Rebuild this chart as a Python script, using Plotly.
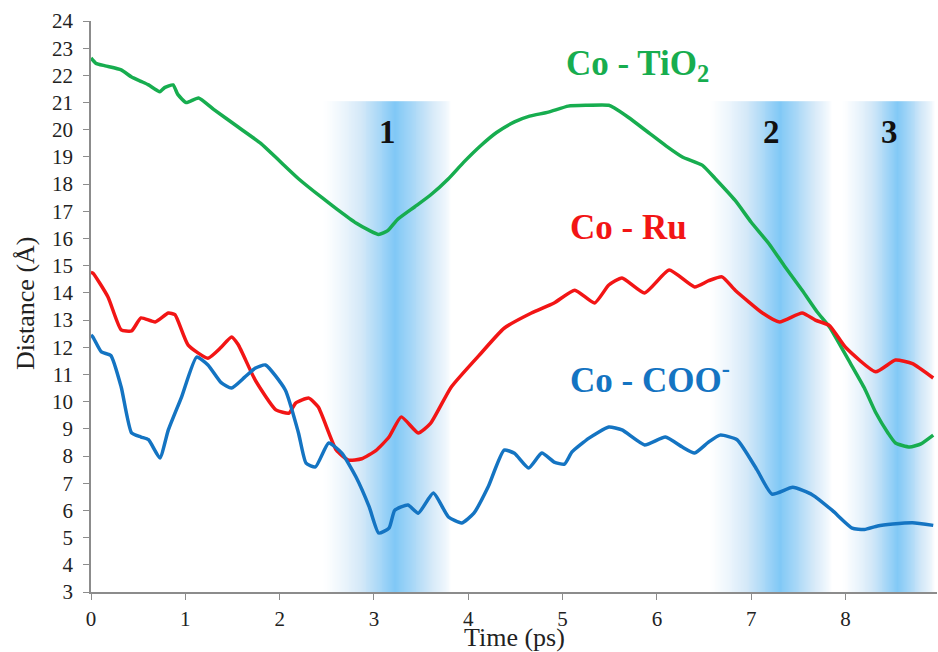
import numpy as np
import plotly.graph_objects as go

# ---- data ----
green_x = [0, 0.05, 0.15, 0.32, 0.43, 0.53, 0.61, 0.73, 0.78, 0.87, 0.92, 1.01, 1.14, 1.3, 1.56, 1.8, 2.0, 2.2,
           2.45, 2.6, 2.81, 2.95, 3.05, 3.15, 3.25, 3.43, 3.6, 3.79, 3.95, 4.14, 4.3, 4.49, 4.65, 4.85, 5.06,
           5.25, 5.49, 5.55, 5.7, 5.91, 6.1, 6.27, 6.48, 6.62, 6.83, 7.0, 7.19, 7.35, 7.54, 7.7, 7.83, 8.07,
           8.2, 8.32, 8.45, 8.53, 8.68, 8.8, 8.93]
green_y = [22.64, 22.45, 22.35, 22.2, 21.94, 21.78, 21.65, 21.4, 21.55, 21.65, 21.3, 21.0, 21.17, 20.75, 20.1,
           19.5, 18.85, 18.2, 17.5, 17.1, 16.57, 16.3, 16.15, 16.3, 16.7, 17.16, 17.6, 18.2, 18.8, 19.44, 19.9,
           20.29, 20.5, 20.65, 20.87, 20.9, 20.9, 20.8, 20.45, 19.9, 19.4, 19.0, 18.7, 18.2, 17.4, 16.6, 15.8,
           15.0, 14.1, 13.3, 12.75, 11.3, 10.5, 9.6, 8.85, 8.48, 8.33, 8.45, 8.77]

red_x = [0, 0.02, 0.18, 0.32, 0.43, 0.53, 0.68, 0.82, 0.89, 1.03, 1.24, 1.38, 1.49, 1.56, 1.74, 1.96, 2.1, 2.17,
         2.31, 2.41, 2.6, 2.73, 2.87, 3.02, 3.16, 3.29, 3.47, 3.6, 3.82, 4.14, 4.38, 4.67, 4.91, 5.13, 5.34,
         5.49, 5.63, 5.87, 6.13, 6.4, 6.55, 6.69, 6.83, 7.12, 7.3, 7.54, 7.68, 7.83, 8.0, 8.32, 8.53, 8.71, 8.93]
red_y = [14.75, 14.73, 13.85, 12.64, 12.6, 13.08, 12.93, 13.26, 13.2, 12.08, 11.6, 12.0, 12.38, 12.1, 10.8, 9.7,
         9.58, 9.95, 10.13, 9.8, 8.22, 7.85, 7.9, 8.2, 8.7, 9.44, 8.85, 9.2, 10.54, 11.8, 12.7, 13.26, 13.63,
         14.1, 13.63, 14.29, 14.55, 14.0, 14.84, 14.22, 14.45, 14.59, 14.1, 13.26, 12.93, 13.26, 13.0, 12.8,
         12.0, 11.1, 11.53, 11.4, 10.87]

blue_x = [0, 0.02, 0.11, 0.21, 0.32, 0.43, 0.53, 0.61, 0.73, 0.82, 0.96, 1.12, 1.24, 1.38, 1.49, 1.63, 1.74,
          1.85, 2.06, 2.2, 2.28, 2.38, 2.52, 2.66, 2.81, 2.95, 3.05, 3.16, 3.22, 3.36, 3.47, 3.63, 3.79, 3.93,
          4.06, 4.21, 4.38, 4.49, 4.64, 4.78, 4.91, 5.02, 5.1, 5.28, 5.49, 5.63, 5.87, 6.09, 6.27, 6.4, 6.55,
          6.67, 6.85, 7.06, 7.22, 7.44, 7.65, 7.86, 8.07, 8.2, 8.34, 8.5, 8.71, 8.93]
blue_y = [12.45, 12.38, 11.83, 11.7, 10.54, 8.85, 8.7, 8.6, 7.93, 8.96, 10.17, 11.64, 11.35, 10.7, 10.5, 10.9,
          11.23, 11.35, 10.43, 8.85, 7.74, 7.6, 8.48, 8.11, 7.23, 6.13, 5.17, 5.35, 6.0, 6.2, 5.9, 6.64, 5.76,
          5.54, 5.9, 6.86, 8.22, 8.1, 7.56, 8.11, 7.78, 7.7, 8.15, 8.66, 9.07, 8.96, 8.41, 8.7, 8.33, 8.11,
          8.52, 8.77, 8.6, 7.5, 6.6, 6.85, 6.57, 6.0, 5.35, 5.3, 5.43, 5.5, 5.55, 5.45]

band_start = [2.45, 6.55, 7.95]
band_peak = [3.22, 7.3, 8.55]
band_end = [3.82, 7.85, 8.95]
band_top = 21.05
band_labels = ["1", "2", "3"]

x_ticks = [0, 1, 2, 3, 4, 5, 6, 7, 8, 9]
y_ticks = list(range(3, 25))

# ---- gradient bands as a heatmap ----
xe = np.linspace(0, 9, 901)
xc = 0.5 * (xe[:-1] + xe[1:])
inten = np.zeros_like(xc)
for s, p, e in zip(band_start, band_peak, band_end):
    left = (xc >= s) & (xc <= p)
    inten[left] = np.maximum(inten[left], ((xc[left] - s) / (p - s)) ** 1.3)
    right = (xc > p) & (xc <= e)
    inten[right] = np.maximum(inten[right], ((e - xc[right]) / (e - p)) ** 0.8)

FONT = "Liberation Serif, Tinos, Times New Roman, DejaVu Serif, serif"
fig = go.Figure()
fig.add_trace(go.Heatmap(
    x=xe, y=[3, band_top], z=[inten], zmin=0, zmax=1, showscale=False, hoverinfo="skip",
    colorscale=[[0, "#ffffff"], [0.45, "#d3e8f8"], [1, "#80c8f6"]]))

LS = dict(width=3.5, shape="spline", smoothing=0.5)
fig.add_trace(go.Scatter(x=green_x, y=green_y, mode="lines", line=dict(color="#17ad4f", **LS)))
fig.add_trace(go.Scatter(x=red_x, y=red_y, mode="lines", line=dict(color="#f21515", **LS)))
fig.add_trace(go.Scatter(x=blue_x, y=blue_y, mode="lines", line=dict(color="#1474c2", **LS)))

ann = []
for lab, p in zip(band_labels, band_peak):
    ann.append(dict(x=p - 0.08, y=19.9, xref="x", yref="y", text="<b>%s</b>" % lab, showarrow=False,
                    font=dict(family=FONT, size=33, color="#111111")))
ann.append(dict(x=5.01, y=22.35, xref="x", yref="y", xanchor="left", text="<b>Co - TiO<sub>2</sub></b>",
                showarrow=False, font=dict(family=FONT, size=35, color="#17ad4f")))
ann.append(dict(x=5.06, y=16.42, xref="x", yref="y", xanchor="left", text="<b>Co - Ru</b>",
                showarrow=False, font=dict(family=FONT, size=35, color="#f21515")))
ann.append(dict(x=5.06, y=10.9, xref="x", yref="y", xanchor="left", text="<b>Co - COO<sup>-</sup></b>",
                showarrow=False, font=dict(family=FONT, size=35, color="#1474c2")))
ann.append(dict(x=0.501, y=0, xref="paper", yref="paper", yanchor="middle", yshift=-45, text="Time (ps)",
                showarrow=False, font=dict(family=FONT, size=26, color="#222222")))
ann.append(dict(x=0, y=0.506, xref="paper", yref="paper", xanchor="center", yanchor="middle", xshift=-66,
                text="Distance (Å)", textangle=-90, showarrow=False,
                font=dict(family=FONT, size=26, color="#222222")))
ann.append(dict(x=9, y=0, xref="x", yref="paper", yanchor="middle", yshift=-26, text="9", showarrow=False,
                font=dict(family=FONT, size=21, color="#222222")))

fig.update_layout(
    width=938, height=652, margin=dict(l=91, r=1, t=21, b=60, autoexpand=False),
    paper_bgcolor="white", plot_bgcolor="white", showlegend=False,
    annotations=ann,
    xaxis=dict(range=[0, 8.97], tickvals=x_ticks, showgrid=False, zeroline=False, showline=True,
               linecolor="#8c8c8c", linewidth=1.5, ticks="outside", ticklen=6, tickcolor="#8c8c8c",
               tickfont=dict(family=FONT, size=21, color="#222222"), ticklabelstandoff=1),
    yaxis=dict(range=[3, 24], tickvals=y_ticks, showgrid=False, zeroline=False, showline=True,
               linecolor="#8c8c8c", linewidth=1.5, ticks="outside", ticklen=6, tickcolor="#8c8c8c",
               tickfont=dict(family=FONT, size=21, color="#222222"), ticklabelstandoff=6),
)
fig.write_html("out.html", config={"displayModeBar": False},
               post_script="document.body.style.margin='0';document.body.style.overflow='hidden';")
